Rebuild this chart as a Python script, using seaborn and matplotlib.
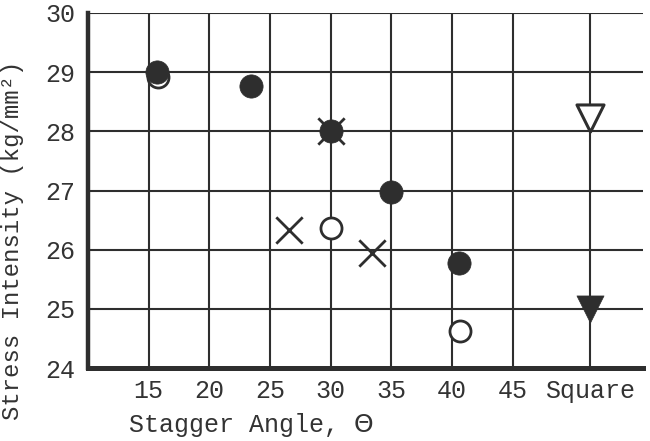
import matplotlib
matplotlib.use("Agg")
import matplotlib.pyplot as plt
import pandas as pd
import seaborn as sns

# Values
tick_angles = [15, 20, 25, 30, 35, 40, 45]
square_x = 51.4  # slot used for the "Square" column
tick_labels = ["15", "20", "25", "30", "35", "40", "45", "Square"]
y_ticks = [24, 25, 26, 27, 28, 29, 30]

filled_x = [15.7, 23.4, 30.0, 35.0, 40.6]
filled_y = [29.0, 28.77, 28.0, 26.97, 25.77]

open_x = [15.8, 30.0, 40.7]
open_y = [28.92, 26.36, 24.62]

cross_x = [30.0, 26.6, 33.4]
cross_y = [28.0, 26.34, 25.95]

square_open_y = [28.22]
square_filled_y = [25.0]

INK = "#2e2e2e"
TEXT = "#333333"

sns.set_theme(style="white")
plt.rcParams["font.family"] = ["Liberation Mono", "DejaVu Sans Mono"]

fig = plt.figure(figsize=(6.5, 4.41), dpi=100)
ax = fig.add_axes([88 / 650, 1 - 368 / 441, (643 - 88) / 650, (368 - 13) / 441])

df_open = pd.DataFrame({"x": open_x, "y": open_y})
df_filled = pd.DataFrame({"x": filled_x, "y": filled_y})
df_cross = pd.DataFrame({"x": cross_x, "y": cross_y})

sns.scatterplot(data=df_open, x="x", y="y", ax=ax, marker="o", s=230,
                facecolor="white", edgecolor=INK, linewidth=2, zorder=3)
sns.scatterplot(data=df_filled, x="x", y="y", ax=ax, marker="o", s=280,
                color=INK, edgecolor=INK, linewidth=0.5, zorder=4)
sns.scatterplot(data=df_cross, x="x", y="y", ax=ax, marker="x", s=360,
                color=INK, linewidth=2, zorder=5)
sns.scatterplot(x=[square_x], y=square_open_y, ax=ax, marker="v", s=380,
                facecolor="white", edgecolor=INK, linewidth=2.2, zorder=4)
sns.scatterplot(x=[square_x], y=square_filled_y, ax=ax, marker="v", s=380,
                color=INK, edgecolor=INK, linewidth=0.5, zorder=4)

ax.set_xlim(10, 55.75)
ax.set_ylim(24, 30)
ax.set_xticks(tick_angles + [square_x])
ax.set_xticklabels(tick_labels)
ax.set_yticks(y_ticks)

ax.grid(True, color=INK, linewidth=1.5)
ax.set_axisbelow(True)
for side in ["top", "right"]:
    ax.spines[side].set_visible(False)
for side in ["left", "bottom"]:
    ax.spines[side].set_color(INK)
    ax.spines[side].set_zorder(6)
ax.spines["left"].set_linewidth(3.2)
ax.spines["bottom"].set_linewidth(3.6)

ax.tick_params(axis="both", length=0, labelsize=18, colors=TEXT)
ax.tick_params(axis="y", pad=9)
ax.tick_params(axis="x", pad=8)

ax.set_xlabel(r"Stagger Angle, $\Theta$", fontsize=18, color=TEXT, ha="left")
ax.xaxis.set_label_coords((128 - 88) / 555, -0.12)
ax.set_ylabel("Stress Intensity (kg/mm²)", fontsize=17.2, color=TEXT)
ax.yaxis.set_label_coords(-(88 - 24) / 555, 0.36)

fig.savefig("out.png", dpi=100)
